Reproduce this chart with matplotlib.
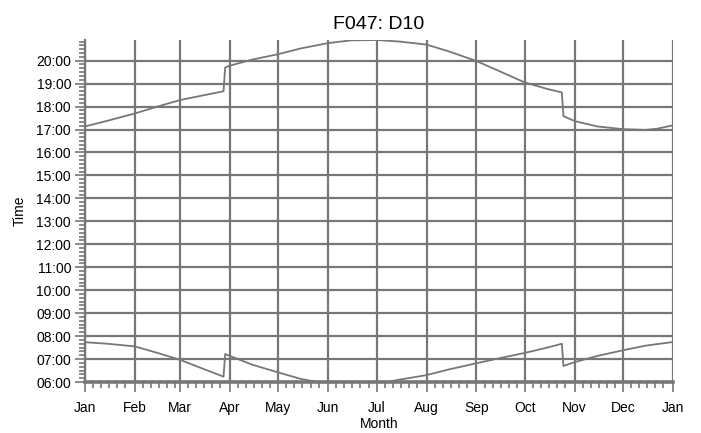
#!/usr/bin/env python3

from matplotlib import pyplot as pl
import matplotlib.dates as mdates
import pandas as pd

# sunset (upper curve), dates and clock times
sunset_dates = ['2009-01-01', '2009-01-15', '2009-02-01', '2009-02-15', '2009-03-01',
                '2009-03-15', '2009-03-28', '2009-03-29', '2009-04-01', '2009-04-15',
                '2009-05-01', '2009-05-15', '2009-06-01', '2009-06-15', '2009-07-01',
                '2009-07-15', '2009-08-01', '2009-08-15', '2009-09-01', '2009-09-15',
                '2009-10-01', '2009-10-15', '2009-10-24', '2009-10-25', '2009-11-01',
                '2009-11-15', '2009-12-01', '2009-12-15', '2009-12-22', '2009-12-31']
sunset_times = ['17:08', '17:23', '17:42', '18:00', '18:17',
                '18:29', '18:40', '19:42', '19:47', '20:03',
                '20:17', '20:32', '20:46', '20:53', '20:54',
                '20:50', '20:42', '20:24', '19:59', '19:33',
                '19:03', '18:46', '18:37', '17:35', '17:22',
                '17:08', '17:01', '16:59', '17:02', '17:10']

# sunrise (lower curve)
sunrise_dates = ['2009-01-01', '2009-01-15', '2009-02-01', '2009-02-15', '2009-03-01',
                 '2009-03-15', '2009-03-28', '2009-03-29', '2009-04-01', '2009-04-15',
                 '2009-05-01', '2009-05-15', '2009-06-01', '2009-06-15', '2009-07-01',
                 '2009-07-15', '2009-08-01', '2009-08-15', '2009-09-01', '2009-09-15',
                 '2009-10-01', '2009-10-15', '2009-10-24', '2009-10-25', '2009-11-01',
                 '2009-11-15', '2009-12-01', '2009-12-15', '2009-12-31']
sunrise_times = ['07:44', '07:40', '07:33', '07:16', '06:58',
                 '06:35', '06:14', '07:13', '07:08', '06:45',
                 '06:25', '06:08', '05:55', '05:51', '05:55',
                 '06:06', '06:18', '06:33', '06:49', '07:02',
                 '07:16', '07:30', '07:40', '06:42', '06:52',
                 '07:08', '07:23', '07:35', '07:44']

hour_labels = ['%02d:00' % h for h in range(6, 21)]


def to_hours(times):
    return [int(t[:2]) + int(t[3:]) / 60 for t in times]


grey = '#777777'
pl.rcParams['font.family'] = ['Liberation Sans', 'DejaVu Sans']

fig = pl.figure(figsize=(7.01, 4.33), dpi=100)
ax = fig.add_axes([85 / 701, 1 - 382 / 433, 588 / 701, 342 / 433])

ax.plot(pd.to_datetime(sunset_dates), to_hours(sunset_times), color=grey, lw=1.3, zorder=3)
ax.plot(pd.to_datetime(sunrise_dates), to_hours(sunrise_times), color=grey, lw=1.3, zorder=3)

ax.set_xlim(pd.Timestamp('2009-01-01'), pd.Timestamp('2010-01-01'))
ax.set_ylim(6, 20.9)

ax.xaxis.set_major_locator(mdates.MonthLocator())
ax.xaxis.set_major_formatter(mdates.DateFormatter('%b'))
ax.xaxis.set_minor_locator(mdates.DayLocator(bymonthday=[6, 11, 16, 21, 26]))

ax.set_yticks(range(6, 21))
ax.set_yticklabels(hour_labels)
ax.set_yticks([6 + i / 6 for i in range(90)], minor=True)

ax.grid(True, which='major', color=grey, lw=1.6, zorder=1)
ax.set_axisbelow(True)

for side in ['top', 'right']:
    ax.spines[side].set_visible(False)
ax.spines['left'].set_color(grey)
ax.spines['left'].set_linewidth(1.6)
ax.spines['bottom'].set_color(grey)
ax.spines['bottom'].set_linewidth(2.6)

ax.tick_params(which='major', length=7, width=1.2, color=grey, labelsize=10, pad=3)
ax.tick_params(which='minor', length=4, width=1.2, color=grey)
ax.tick_params(axis='x', which='major', pad=7)

ax.set_xlabel('Month', fontsize=10, labelpad=1)
ax.set_ylabel('Time', fontsize=10, labelpad=7)
ax.set_title('F047: D10', fontsize=14, pad=8)

fig.savefig('out.png', dpi=100)
